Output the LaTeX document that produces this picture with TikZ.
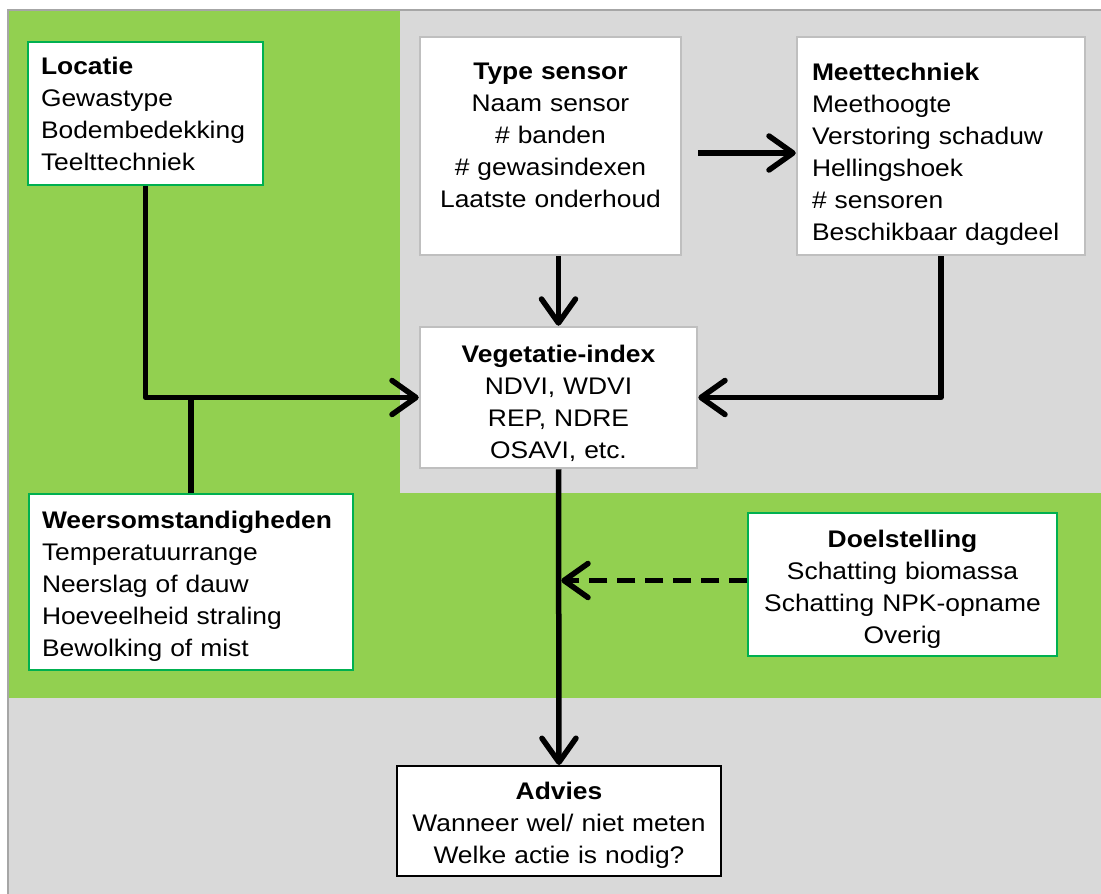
\documentclass[tikz,border=0pt]{standalone}
\usepackage{fontspec}
\setmainfont{Liberation Sans}[FakeStretch=1.1, WordSpace=1.8]
\usepackage{tikz}
\usetikzlibrary{arrows.meta, positioning}
\usepackage{xcolor}
\definecolor{bggray}{HTML}{D9D9D9}
\definecolor{framegray}{HTML}{A6A6A6}
\definecolor{leafgreen}{HTML}{92D050}
\definecolor{boxgreen}{HTML}{00B050}
\definecolor{boxgray}{HTML}{BFBFBF}
% kop van een blok, met extra ruimte erboven
\newcommand\kop[2][0pt]{\rule{0pt}{#1}\textbf{#2}}

\begin{document}
\begin{tikzpicture}[
        x=1pt, y=-1pt,
        box/.style={rectangle, fill=white, inner sep=0pt,
                    font=\fontsize{24}{32}\selectfont},
        greenbox/.style={box, draw=boxgreen, line width=1.5pt},
        graybox/.style={box, draw=boxgray, line width=2.5pt},
        blackbox/.style={box, draw=black, line width=2pt},
        plain/.style={line width=5.5pt, line join=round},
        flow/.style={plain, -{Straight Barb[length=24pt, width=34pt, round]}}
    ]
        \path[use as bounding box, clip] (0,0) rectangle (1101,894);
        % achtergrond
        \fill[bggray] (8,10) rectangle (1110,900);
        \fill[leafgreen] (8,10) rectangle (1110,698);
        \fill[bggray] (400,10) rectangle (1110,493);
        \draw[framegray, line width=2pt] (8,900) -- (8,10) -- (1110,10);

        \node[greenbox, minimum width=235, minimum height=143,
              text width=209, align=left] (loc) at (145.5,113.5)
            {\kop{Locatie}\\Gewastype\\Bodembedekking\\Teelttechniek};
        \node[graybox, minimum width=261, minimum height=218,
              text width=250, align=center] (type) at (550.5,146)
            {\kop{Type sensor}\\Naam sensor\\\# banden\\\# gewasindexen\\Laatste onderhoud\rule[-22pt]{0pt}{22pt}};
        \node[graybox, minimum width=288, minimum height=218,
              text width=258, align=left] (meet) at (941,146)
            {\kop[34pt]{Meettechniek}\\Meethoogte\\Verstoring schaduw\\Hellingshoek\\\# sensoren\\Beschikbaar dagdeel};
        \node[graybox, minimum width=277, minimum height=141,
              text width=265, align=center] (veg) at (558.5,397.5)
            {\kop[30pt]{Vegetatie-index}\\NDVI, WDVI\\REP, NDRE\\OSAVI, etc.};
        \node[greenbox, minimum width=324, minimum height=176,
              text width=298, align=left] (weer) at (191,582)
            {\kop[26pt]{Weersomstandigheden}\\Temperatuurrange\\Neerslag of dauw\\Hoeveelheid straling\\Bewolking of mist};
        \node[greenbox, minimum width=309, minimum height=143,
              text width=300, align=center] (doel) at (902.5,584.5)
            {\kop[26pt]{Doelstelling}\\Schatting biomassa\\Schatting NPK-opname\\Overig};
        \node[blackbox, minimum width=324, minimum height=110,
              text width=316, align=center] (advies) at (559,821)
            {\kop[26pt]{Advies}\\Wanneer wel/ niet meten\\Welke actie is nodig?};

        \draw[flow] (loc.south) |- (veg.west);
        \draw[plain] (weer.north) -- (weer.north |- veg.west);
        \draw[flow, shorten <=16pt] ([yshift=-7pt]type.east) -- ([yshift=-7pt]meet.west);
        \draw[flow] (veg.north |- type.south) -- (veg.north);
        \draw[flow] (meet.south) |- (veg.east);
        \draw[flow] (veg.south) -- (advies.north);
        \draw[flow, dash pattern=on 18pt off 10pt, shorten >=2.75pt]
            ([yshift=4pt]doel.west) -- ([yshift=4pt]doel.west -| veg.south);
    \end{tikzpicture}
\end{document}
